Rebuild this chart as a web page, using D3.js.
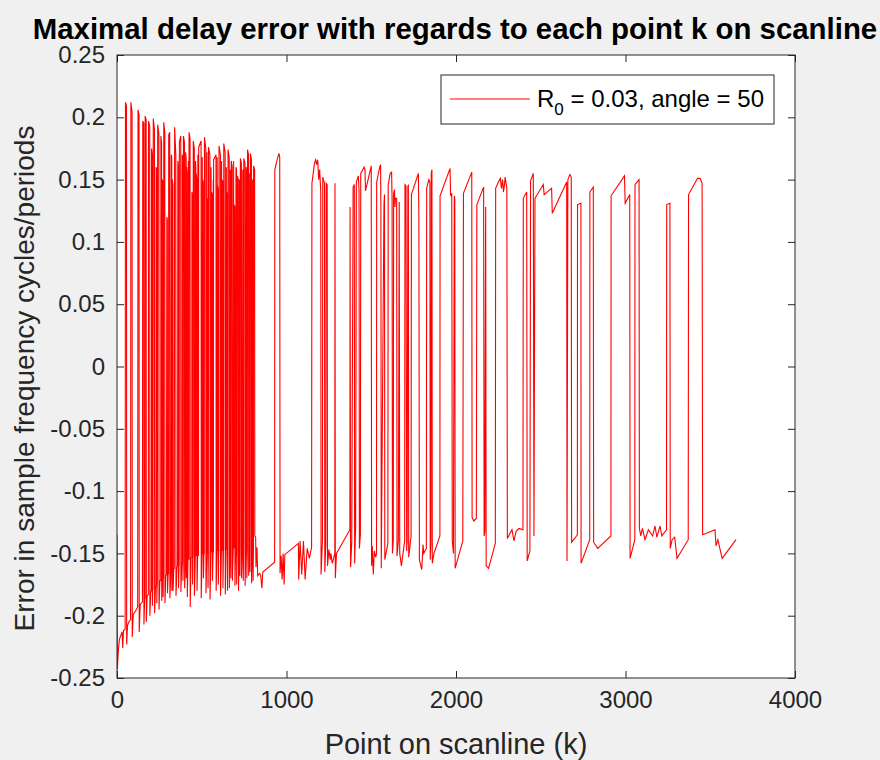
<!DOCTYPE html>
<html>
<head>
<meta charset="utf-8">
<script src="https://cdn.jsdelivr.net/npm/d3@7"></script>
<style>
  html, body { margin: 0; padding: 0; background: #f0f0f0; }
  svg { display: block; font-family: "Liberation Sans", Arial, sans-serif; }
</style>
</head>
<body>
<div class="chart"></div>
<script>
const W = 880, H = 760;
const box = {left: 117, right: 795, top: 55, bottom: 678};

const xTicks = [0, 1000, 2000, 3000, 4000];
const yTicks = [-0.25, -0.2, -0.15, -0.1, -0.05, 0, 0.05, 0.1, 0.15, 0.2, 0.25];
const yTickLabels = ["-0.25", "-0.2", "-0.15", "-0.1", "-0.05", "0", "0.05", "0.1", "0.15", "0.2", "0.25"];

const titleText = "Maximal delay error with regards to each point k on scanline";
const xLabel = "Point on scanline (k)";
const yLabel = "Error in sample frequency cycles/periods";
const legendR0 = "0.03";
const legendAngle = "50";

// [k, error], dense part near the start of the scanline
const denseTrace = [
  [0,-0.135],[2,-0.243],[8,-0.228],[14,-0.219],[22,-0.216],[30,-0.213],[34,-0.226],[38,-0.212],
  [48,-0.211],[50,0.212],[56,0.209],[57,-0.223],[62,-0.208],
  [70,-0.205],[80,-0.203],[82,0.212],[89,0.204],[90,-0.217],[96,-0.199],
  [110,-0.196],[122,-0.193],[124,0.206],[130,0.202],[131,-0.213],[137,-0.191],
  [150,-0.189],[152,0.197],[158,0.195],[159,-0.207],[163,-0.187],
  [165,-0.186],[166,0.201],[172,0.198],[173,-0.205],[178,-0.184],
  [185,-0.183],[186,0.197],[193,0.193],[194,-0.200],[199,-0.181],
  [203,-0.180],[204,0.175],[208,0.170],[209,-0.192],[211,-0.179],
  [212,-0.179],[214,0.199],[221,0.190],[222,-0.198],[227,-0.177],
  [230,-0.176],[231,0.160],[234,0.158],[235,-0.190],[237,-0.175],
  [238,-0.175],[240,0.194],[247,0.187],[248,-0.195],[253,-0.172],
  [258,-0.172],[259,0.185],[263,0.180],[264,-0.188],[266,-0.171],[268,0.150],[271,0.145],[272,-0.185],[273,-0.170],
  [274,-0.170],[276,0.196],[282,0.188],[283,-0.190],[288,-0.168],
  [292,-0.167],[294,0.120],[297,0.118],[298,-0.182],[302,-0.166],
  [304,-0.166],[305,0.186],[311,0.188],[312,-0.186],[318,-0.164],
  [320,0.170],[323,0.168],[324,-0.180],
  [325,-0.163],[327,0.150],[330,0.145],[331,-0.180],[335,-0.162],
  [338,-0.162],[340,0.192],[347,0.170],[348,-0.184],[354,-0.161],
  [357,-0.160],[359,0.165],[362,0.160],[363,-0.178],[366,-0.159],
  [367,-0.159],[368,0.180],[376,0.185],[377,-0.181],[382,-0.158],
  [384,-0.158],[385,0.170],[388,0.163],[389,-0.172],[391,-0.157],
  [392,0.185],[398,0.180],[399,-0.178],[404,-0.156],
  [405,0.172],[408,0.168],[409,-0.170],
  [410,-0.156],[411,0.160],[414,0.155],[415,-0.185],[419,-0.155],
  [421,0.165],[423,0.160],
  [424,-0.155],[425,0.188],[431,0.183],[432,-0.193],[437,-0.154],
  [441,-0.153],[442,0.140],[445,0.135],[446,-0.175],[448,-0.153],
  [449,-0.153],[450,0.181],[456,0.175],[457,-0.184],[462,-0.152],
  [463,0.165],[465,0.160],
  [466,-0.152],[467,0.155],[471,0.150],[472,-0.180],[476,-0.152],
  [477,0.170],[480,0.165],
  [481,-0.152],[482,0.176],[496,0.181],[497,-0.186],[502,-0.151],
  [503,0.168],
  [505,-0.151],[506,0.150],[509,0.147],[510,-0.170],[513,-0.150],
  [515,-0.150],[516,0.184],[524,0.175],[525,-0.182],[530,-0.150],
  [531,0.172],
  [532,-0.150],[533,0.135],[536,0.130],[537,-0.178],[539,-0.150],
  [540,0.176],[548,0.170],[549,-0.187],[554,-0.149],
  [555,0.160],
  [557,-0.149],[558,0.140],[562,0.138],[563,-0.172],[567,-0.149],
  [568,0.150],
  [569,-0.149],[570,0.166],[584,0.170],[585,-0.180],[590,-0.148],
  [591,0.168],
  [592,-0.148],[593,0.145],[597,0.140],[598,-0.175],[600,-0.148],
  [601,-0.148],[602,0.177],[610,0.170],[611,-0.184],[616,-0.148],
  [617,0.165],
  [619,-0.148],[620,0.150],[624,0.148],[625,-0.178],[628,-0.147],
  [629,-0.147],[630,0.179],[638,0.172],[639,-0.183],[644,-0.147],
  [645,0.160],
  [646,-0.147],[647,0.140],[651,0.136],[652,-0.180],[654,-0.147],
  [655,0.174],[662,0.168],[663,-0.178],[667,-0.147],
  [669,0.158],[671,0.155],[672,-0.170],
  [673,-0.146],[674,0.165],[680,0.160],[681,-0.172],[686,-0.146],
  [688,0.165],
  [690,-0.146],[691,0.130],[695,0.128],[696,-0.176],[700,-0.146],
  [702,0.160],[705,0.158],[706,-0.175],
  [709,-0.146],[710,0.153],[716,0.150],[717,-0.180],[721,-0.146],
  [723,0.150],[725,-0.168],
  [727,-0.146],[728,0.167],[734,0.163],[735,-0.170],[740,-0.146],
  [742,0.158],[745,-0.172],
  [747,-0.146],[748,0.167],[755,0.163],[756,-0.176],[760,-0.145],
  [762,0.160],[765,0.155],[766,-0.170],
  [769,-0.145],[770,0.174],[776,0.170],[777,-0.168],[782,-0.145],
  [783,0.155],[785,-0.165],
  [786,-0.145],[787,0.171],[793,0.166],[794,-0.174],[799,-0.145],
  [800,0.150],[803,-0.172],
  [805,-0.145],[806,0.161],[812,0.158],[813,-0.136],[818,-0.137],
  [820,-0.161],[826,-0.145],[830,-0.168],[842,-0.166],[848,-0.168],[855,-0.178],[860,-0.165]
];

// [k, error] for the sparser part further along the scanline
const sparseTrace = [
  [930,-0.157],[931,0.158],[945,0.166],[955,0.171],[960,0.168],[962,-0.166],[968,-0.152],
  [974,-0.171],[980,-0.150],[986,-0.175],[990,-0.151],[1070,-0.142],
  [1072,-0.171],[1080,-0.140],[1090,-0.167],[1100,-0.140],[1110,-0.171],[1122,-0.146],
  [1135,-0.154],[1148,-0.145],[1150,0.147],[1165,0.163],[1172,0.166],[1178,0.162],
  [1184,0.166],[1190,0.150],[1196,0.158],[1202,0.140],[1204,-0.167],[1212,-0.140],
  [1214,0.152],[1224,0.147],[1226,-0.165],[1232,-0.143],[1234,0.147],[1240,0.146],
  [1242,-0.160],[1250,-0.147],[1258,-0.155],[1262,-0.150],[1270,-0.158],[1285,-0.150],
  [1286,0.147],[1288,-0.170],[1295,-0.150],[1374,-0.131],
  [1375,0.128],[1378,-0.161],[1385,-0.141],[1393,0.144],[1400,0.146],[1402,-0.158],
  [1408,-0.128],[1412,0.148],[1424,0.153],[1428,0.141],[1430,-0.146],[1436,-0.135],
  [1438,0.155],[1450,0.158],[1458,0.160],[1463,0.158],[1466,0.141],[1500,0.161],
  [1502,-0.160],[1506,-0.144],[1512,-0.167],[1518,-0.148],[1526,-0.153],[1531,-0.150],
  [1532,0.148],[1550,0.160],[1555,0.162],[1557,0.124],[1559,-0.162],[1575,0.130],
  [1578,0.138],[1580,-0.155],[1598,-0.142],[1600,0.146],[1612,0.155],[1620,0.156],
  [1623,0.134],[1625,-0.150],[1630,-0.140],[1632,0.139],[1637,0.142],[1640,0.128],
  [1643,0.135],[1650,0.135],[1652,-0.152],[1660,-0.140],[1665,0.132],[1668,-0.150],
  [1678,-0.160],[1697,-0.140],[1699,0.146],[1705,0.145],[1709,-0.148],[1712,-0.140],
  [1716,0.144],[1719,0.146],[1721,-0.153],[1735,-0.136],[1737,0.138],[1778,0.155],
  [1781,0.120],[1784,-0.155],[1798,-0.163],[1805,-0.143],[1810,-0.150],[1825,-0.146],
  [1827,0.143],[1840,0.150],[1846,0.148],[1848,-0.155],[1852,-0.140],[1854,0.155],
  [1858,0.158],[1860,-0.158],[1870,-0.150],[1905,-0.136],[1906,0.137],[1965,0.159],
  [1968,0.137],[1975,0.139],[1978,-0.140],[1985,-0.150],[1990,0.137],[1993,0.134],
  [1995,-0.162],[2040,-0.140],[2044,0.139],[2093,0.156],[2095,-0.121],[2105,-0.124],
  [2120,-0.122],[2123,0.130],[2163,0.144],[2166,-0.136],[2170,-0.132],[2175,0.128],
  [2178,-0.160],[2192,-0.162],[2232,-0.142],[2234,0.143],[2250,0.148],[2262,0.151],
  [2268,0.143],[2275,0.150],[2280,0.140],[2286,0.146],[2290,0.152],[2300,0.143],
  [2303,-0.138],[2330,-0.131],[2342,-0.140],[2355,-0.132],[2372,-0.130],[2395,-0.131],
  [2397,0.135],[2417,0.140],[2420,-0.156],[2436,-0.148],[2440,0.149],[2456,0.155],
  [2460,-0.136],[2466,0.135],[2515,0.146],[2520,0.138],[2564,0.143],[2568,0.123],
  [2653,0.148],[2655,-0.156],[2660,0.150],[2672,0.154],[2680,0.152],[2682,-0.141],
  [2700,-0.138],[2716,-0.135],[2717,0.130],[2737,0.131],[2738,-0.158],[2789,-0.139],
  [2790,0.140],[2810,0.144],[2812,-0.141],[2836,-0.146],[2914,-0.136],[2915,0.137],
  [2994,0.153],[2998,0.131],[3025,0.138],[3027,-0.154],[3055,-0.139],[3056,0.146],
  [3080,0.150],[3082,-0.130],[3090,-0.136],[3100,-0.130],[3115,-0.139],[3135,-0.131],
  [3160,-0.136],[3174,-0.128],[3185,-0.137],[3204,-0.128],[3214,-0.136],[3242,-0.131],
  [3243,0.130],[3262,0.131],[3264,-0.146],[3275,-0.139],[3290,-0.137],[3304,-0.154],
  [3370,-0.139],[3372,0.138],[3425,0.151],[3440,0.151],[3452,0.147],[3455,-0.135],
  [3528,-0.131],[3534,-0.144],[3545,-0.139],[3570,-0.154],[3652,-0.139]
];

const trace = denseTrace.concat(sparseTrace);

const svg = d3.select(".chart")
    .append("svg")
    .attr("width", W)
    .attr("height", H);

svg.append("rect")
    .attr("width", W).attr("height", H)
    .attr("fill", "#f0f0f0");

const x = d3.scaleLinear().domain([0, 4000]).range([box.left, box.right]);
const y = d3.scaleLinear().domain([-0.25, 0.25]).range([box.bottom, box.top]);

// white plot area
svg.append("rect")
    .attr("x", box.left).attr("y", box.top)
    .attr("width", box.right - box.left)
    .attr("height", box.bottom - box.top)
    .attr("fill", "#fff");

// the data line, clipped to the axes
svg.append("clipPath").attr("id", "plotClip")
    .append("rect")
    .attr("x", box.left).attr("y", box.top)
    .attr("width", box.right - box.left)
    .attr("height", box.bottom - box.top);

const line = d3.line()
    .x(d => x(d[0]))
    .y(d => y(d[1]));

svg.append("path")
    .datum(trace)
    .attr("clip-path", "url(#plotClip)")
    .attr("fill", "none")
    .attr("stroke", "#ff0000")
    .attr("stroke-width", 1.1)
    .attr("stroke-linejoin", "miter")
    .attr("d", line);

// axes, ticks point inward like matlab
const tickLen = 7;
const axisColor = "#262626";

const xAxis = svg.append("g")
    .attr("transform", `translate(0,${box.bottom})`)
    .call(d3.axisBottom(x).tickValues(xTicks).tickFormat(d3.format("d"))
        .tickSizeInner(-tickLen).tickSizeOuter(0).tickPadding(13));
const xTop = svg.append("g")
    .attr("transform", `translate(0,${box.top})`)
    .call(d3.axisTop(x).tickValues(xTicks).tickFormat("")
        .tickSizeInner(-tickLen).tickSizeOuter(0));
const yAxis = svg.append("g")
    .attr("transform", `translate(${box.left},0)`)
    .call(d3.axisLeft(y).tickValues(yTicks).tickFormat((d, i) => yTickLabels[i])
        .tickSizeInner(-tickLen).tickSizeOuter(0).tickPadding(12));
const yRight = svg.append("g")
    .attr("transform", `translate(${box.right},0)`)
    .call(d3.axisRight(y).tickValues(yTicks).tickFormat("")
        .tickSizeInner(-tickLen).tickSizeOuter(0));

[xAxis, xTop, yAxis, yRight].forEach(g => {
    g.select(".domain").remove();
    g.selectAll(".tick line").attr("stroke", axisColor).attr("stroke-width", 1);
    g.selectAll(".tick text")
        .attr("fill", axisColor)
        .style("font-size", "24px")
        .style("font-family", "'Liberation Sans', Arial, sans-serif");
});
xAxis.selectAll(".tick text").attr("dy", "0.71em");

// axes box
svg.append("rect")
    .attr("x", box.left).attr("y", box.top)
    .attr("width", box.right - box.left)
    .attr("height", box.bottom - box.top)
    .attr("fill", "none")
    .attr("stroke", axisColor)
    .attr("stroke-width", 1);

// title and labels
svg.append("text")
    .attr("x", 455)
    .attr("y", 39)
    .attr("text-anchor", "middle")
    .style("font-size", "29.4px")
    .style("font-weight", "bold")
    .attr("fill", "#000")
    .text(titleText);

svg.append("text")
    .attr("x", (box.left + box.right) / 2)
    .attr("y", 754)
    .attr("text-anchor", "middle")
    .style("font-size", "29px")
    .attr("fill", axisColor)
    .text(xLabel);

svg.append("text")
    .attr("transform", `translate(34,${(box.top + box.bottom) / 2 + 12}) rotate(-90)`)
    .attr("text-anchor", "middle")
    .style("font-size", "28px")
    .attr("fill", axisColor)
    .text(yLabel);

// legend
const legend = svg.append("g").attr("class", "legend");
legend.append("rect")
    .attr("x", 441).attr("y", 75)
    .attr("width", 333).attr("height", 49)
    .attr("fill", "#fff")
    .attr("stroke", axisColor)
    .attr("stroke-width", 1);
legend.append("line")
    .attr("x1", 450).attr("x2", 530)
    .attr("y1", 99).attr("y2", 99)
    .attr("stroke", "#ff0000")
    .attr("stroke-width", 1);
const legendText = legend.append("text")
    .attr("x", 537).attr("y", 107)
    .style("font-size", "24px")
    .attr("fill", "#000");
legendText.append("tspan").text("R");
legendText.append("tspan").attr("dy", 8).style("font-size", "17px").text("0");
legendText.append("tspan").attr("dy", -8).text(` = ${legendR0}, angle = ${legendAngle}`);
</script>
</body>
</html>
